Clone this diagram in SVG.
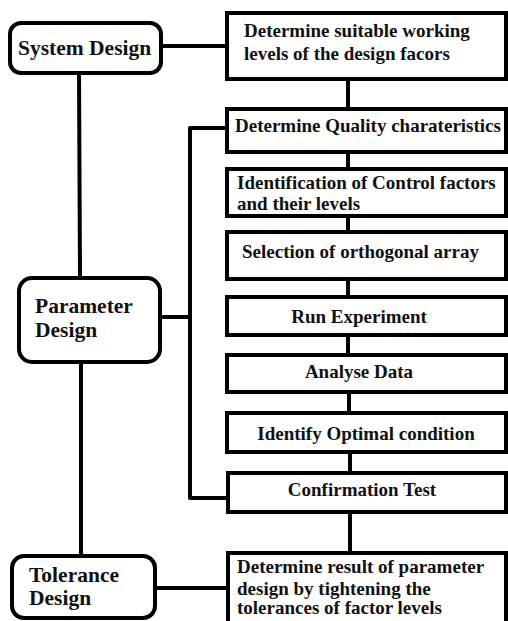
<svg xmlns="http://www.w3.org/2000/svg" width="508" height="621" viewBox="0 0 508 621">
<style>
.box{fill:#fff;stroke:#000;stroke-width:4}
.rb{fill:#fff;stroke:#000;stroke-width:4}
.c{fill:none;stroke:#000;stroke-width:4;stroke-linejoin:round}
text{font-weight:bold;fill:#111}
.l{font-size:21.5px}
.r{font-size:19px}
.m{text-anchor:middle}
</style>
<rect width="508" height="621" fill="#fff"/>
<g id="connectors">
<line class="c" x1="161" y1="46" x2="227" y2="46"/>
<line class="c" x1="79" y1="73" x2="80" y2="278"/>
<line class="c" x1="81" y1="362" x2="81" y2="556"/>
<line class="c" x1="160" y1="317" x2="190" y2="317"/>
<polyline class="c" points="227,128 190,128 190,498 228,498"/>
<line class="c" x1="155" y1="588" x2="228" y2="588"/>
<line class="c" x1="348" y1="79" x2="348" y2="109"/>
<line class="c" x1="348" y1="152" x2="348" y2="169"/>
<line class="c" x1="348" y1="216" x2="348" y2="232"/>
<line class="c" x1="348" y1="279" x2="348" y2="297"/>
<line class="c" x1="348" y1="335" x2="348" y2="355"/>
<line class="c" x1="349" y1="392" x2="349" y2="413"/>
<line class="c" x1="350" y1="452" x2="350" y2="473"/>
<line class="c" x1="350" y1="512" x2="350" y2="553"/>
</g>
<g font-family="'Liberation Serif', 'DejaVu Serif', serif">
<g id="system-design">
<rect class="rb" x="10" y="23" width="151" height="50" rx="11"/>
<text class="l" x="18" y="55">System Design</text>
</g>
<g id="parameter-design">
<rect class="rb" x="19" y="278" width="141" height="84" rx="13"/>
<text class="l" x="35" y="313">Parameter</text>
<text class="l" x="35" y="337">Design</text>
</g>
<g id="tolerance-design">
<rect class="rb" x="12" y="556" width="143" height="62" rx="12"/>
<text class="l" x="29" y="582">Tolerance</text>
<text class="l" x="29" y="605">Design</text>
</g>
<g id="working-levels">
<rect class="box" x="227" y="13" width="279" height="66"/>
<text class="r" x="244" y="37">Determine suitable working</text>
<text class="r" x="244" y="60">levels of the design facors</text>
</g>
<g id="quality">
<rect class="box" x="227" y="109" width="279" height="43"/>
<text class="r" x="235" y="132">Determine Quality charateristics</text>
</g>
<g id="control-factors">
<rect class="box" x="227" y="169" width="279" height="47"/>
<text class="r" x="237" y="189">Identification of Control factors</text>
<text class="r" x="237" y="210">and their levels</text>
</g>
<g id="orthogonal">
<rect class="box" x="227" y="232" width="279" height="47"/>
<text class="r" x="242" y="258">Selection of orthogonal array</text>
</g>
<g id="run">
<rect class="box" x="227" y="297" width="279" height="38"/>
<text class="r m" x="359" y="323">Run Experiment</text>
</g>
<g id="analyse">
<rect class="box" x="227" y="355" width="279" height="37"/>
<text class="r m" x="359" y="378">Analyse Data</text>
</g>
<g id="optimal">
<rect class="box" x="227" y="413" width="279" height="39"/>
<text class="r m" x="366" y="440">Identify Optimal condition</text>
</g>
<g id="confirmation">
<rect class="box" x="228" y="473" width="278" height="39"/>
<text class="r m" x="362" y="496">Confirmation Test</text>
</g>
<g id="tolerance-result">
<rect class="box" x="228" y="553" width="278" height="80"/>
<text class="r" x="237" y="573">Determine result of parameter</text>
<text class="r" x="237" y="595">design by tightening the</text>
<text class="r" x="237" y="614">tolerances of factor levels</text>
</g>
</g>
</svg>
